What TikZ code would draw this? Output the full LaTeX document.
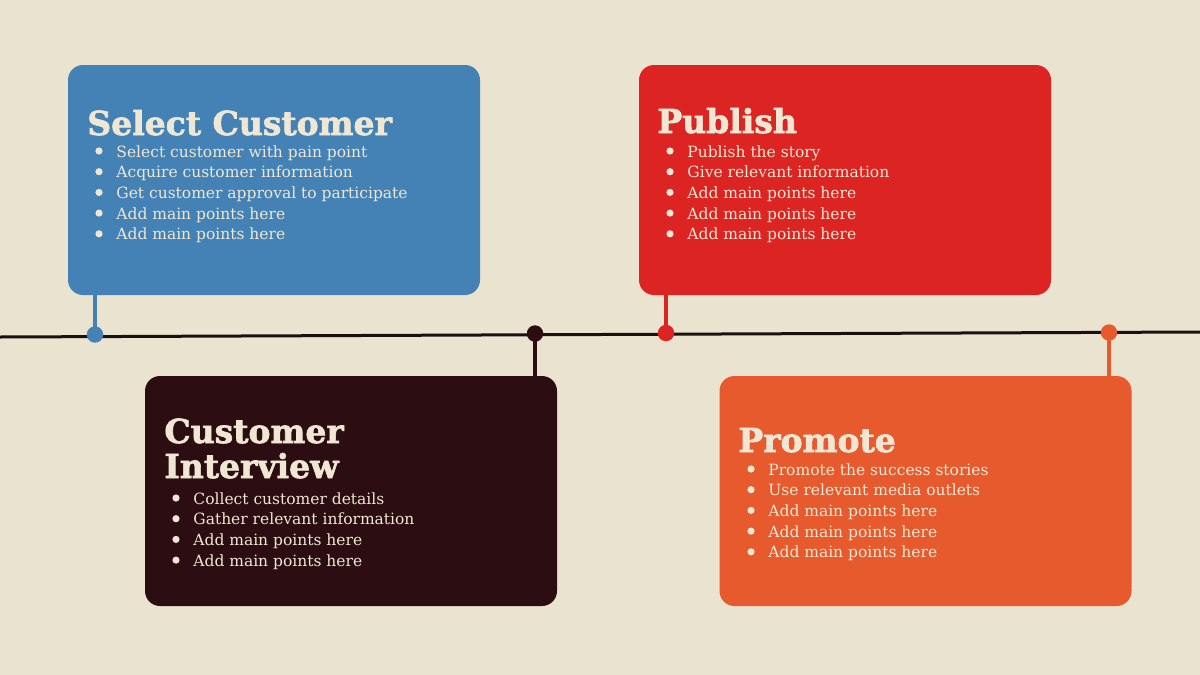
\documentclass[tikz,border=0pt]{standalone}
\usepackage{fontspec}
\setmainfont{DejaVu Serif}
\newfontfamily\titlefont[BoldFeatures={FakeBold=2}]{DejaVu Serif}
\usepackage{tikz}
\usepackage{xcolor}
\definecolor{paper}{HTML}{E9E3CF}
\definecolor{cream}{HTML}{EFE7D3}
\definecolor{stepblue}{HTML}{4482B6}
\definecolor{stepred}{HTML}{DC2423}
\definecolor{stepdark}{HTML}{2B0D12}
\definecolor{steporange}{HTML}{E65A2D}
\definecolor{inkline}{HTML}{1A1012}
\tikzset{
    step-box/.style = {fill=#1, rectangle, rounded corners=7.5pt, inner sep=0pt, minimum width=206pt, minimum height=115pt},
    step-title/.style = {text=cream, font=\titlefont\fontsize{16.5}{17.5}\selectfont\bfseries, inner sep=0pt, anchor=base west, align=left},
    step-item/.style = {text=cream, font=\fontsize{7.75}{10.35}\selectfont, inner sep=0pt, anchor=base west},
    step-dot/.style = {fill=#1, circle, inner sep=0pt, minimum size=8.2pt},
    step-stem/.style = {draw=#1, line width=1.7pt},
}

\begin{document}
\begin{tikzpicture}[x=0.5pt, y=-0.5pt]
\fill[paper] (0,0) rectangle (1200,675);
\useasboundingbox (0,0) rectangle (1200,675);

% timeline
\coordinate (line-start) at (0,337);
\coordinate (line-end) at (1200,332);
\draw[inkline, line width=1.5pt] (line-start) -- (line-end);

% boxes
\node [step-box=stepblue] (select) at (274,180) {};
\node [step-box=stepdark] (interview) at (351,491) {};
\node [step-box=stepred] (publish) at (845,180) {};
\node [step-box=steporange] (promote) at (925.5,491) {};

% dots and stems
\node [step-dot=stepblue] (dot-select) at (95,334.5) {};
\node [step-dot=stepdark] (dot-interview) at (535,333.5) {};
\node [step-dot=stepred] (dot-publish) at (666,333) {};
\node [step-dot=steporange] (dot-promote) at (1109,332.5) {};
\draw[step-stem=stepblue] (dot-select.center) -- (select.south -| dot-select);
\draw[step-stem=stepdark] (dot-interview.center) -- (interview.north -| dot-interview);
\draw[step-stem=stepred] (dot-publish.center) -- (publish.south -| dot-publish);
\draw[step-stem=steporange] (dot-promote.center) -- (promote.north -| dot-promote);

% titles
\node [step-title] (select-title) at (87,135) {Select Customer};
\node [step-title] (interview-title) at (164,478) {Customer\\Interview};
\node [step-title] (publish-title) at (657,133) {Publish};
\node [step-title] (promote-title) at (738,452) {Promote};

% bullet points
\foreach \txt [count=\i] in {Select customer with pain point, Acquire customer information, Get customer approval to participate, Add main points here, Add main points here}{
    \fill[cream] (99,{151+20.7*(\i-1)}) circle (1.8pt);
    \node [step-item] (select-item-\i) at (116,{157+20.7*(\i-1)}) {\txt};
}
\foreach \txt [count=\i] in {Collect customer details, Gather relevant information, Add main points here, Add main points here}{
    \fill[cream] (176,{498+20.7*(\i-1)}) circle (1.8pt);
    \node [step-item] (interview-item-\i) at (193,{504+20.7*(\i-1)}) {\txt};
}
\foreach \txt [count=\i] in {Publish the story, Give relevant information, Add main points here, Add main points here, Add main points here}{
    \fill[cream] (670,{151+20.7*(\i-1)}) circle (1.8pt);
    \node [step-item] (publish-item-\i) at (687,{157+20.7*(\i-1)}) {\txt};
}
\foreach \txt [count=\i] in {Promote the success stories, Use relevant media outlets, Add main points here, Add main points here, Add main points here}{
    \fill[cream] (751,{469+20.7*(\i-1)}) circle (1.8pt);
    \node [step-item] (promote-item-\i) at (768,{475+20.7*(\i-1)}) {\txt};
}
\end{tikzpicture}
\end{document}
